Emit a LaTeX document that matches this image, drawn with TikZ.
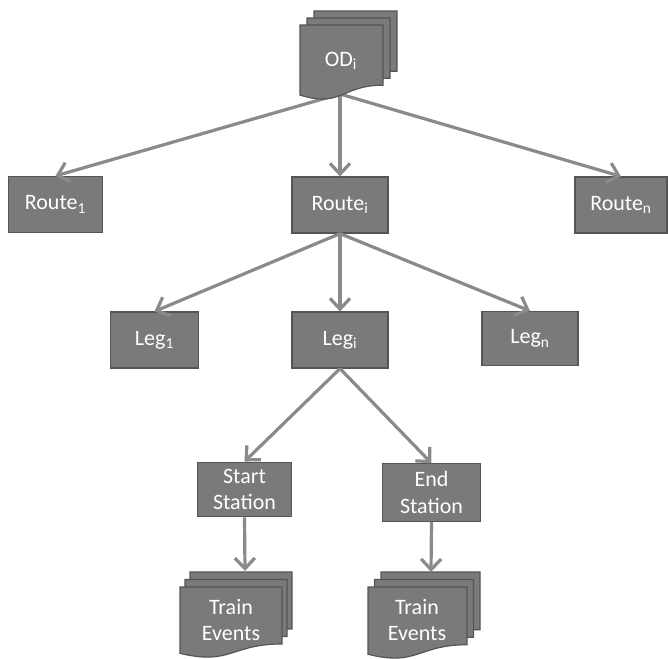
\documentclass[tikz,border=0pt]{standalone}
\usepackage{fontspec}
\setmainfont{Carlito}
\usetikzlibrary{arrows.meta}

\definecolor{boxfill}{HTML}{7A7A7A}
\definecolor{boxline}{HTML}{555555}
\definecolor{linkgray}{HTML}{8A8A8A}

% one sheet of a document stack: top-left x, top-left y, width, height
\newcommand{\docsheet}[4]{%
    \draw[sheet] (#1,#2) -- ({#1+#3},#2) -- ({#1+#3},{#2+0.802*#4})
        .. controls ({#1+0.5*#3},{#2+0.802*#4}) and ({#1+0.5*#3},{#2+1.107*#4})
        .. (#1,{#2+0.934*#4}) -- cycle;
}

\begin{document}
\begin{tikzpicture}[x=0.75pt, y=-0.75pt,
    every node/.style={font=\fontsize{16.5}{20}\selectfont, text=white},
    boxnode/.style={draw=boxline, fill=boxfill, line width=0.9pt,
        minimum width=72pt, minimum height=42pt, inner sep=2pt, align=center},
    sheet/.style={draw=boxline, fill=boxfill, line width=0.9pt},
    link/.style={draw=linkgray, line width=2.4pt,
        -{Straight Barb[length=8pt, width=15pt]}}]
    \useasboundingbox (0,0) rectangle (668,658);

    % boxes
    \node[boxnode, minimum width=71pt] (route1) at (55.5,204.5) {Route\textsubscript{1}};
    \node[boxnode] (routei) at (340,205) {Route\textsubscript{i}};
    \node[boxnode, minimum width=69pt] (routen) at (621,205) {Route\textsubscript{n}};
    \node[boxnode, minimum width=66pt] (leg1) at (154.5,340) {Leg\textsubscript{1}};
    \node[boxnode] (legi) at (340,340) {Leg\textsubscript{i}};
    \node[boxnode, minimum height=40.5pt] (legn) at (530,338.5) {Leg\textsubscript{n}};
    \node[boxnode, minimum width=71pt, minimum height=41pt] (start) at (244.5,489.5) {Start\\Station};
    \node[boxnode, minimum width=73pt, minimum height=43pt] (end) at (431.5,492.5) {End\\Station};

    % document stacks
    \coordinate (odfoot) at (340,94);
    \coordinate (eventsA) at (245,571);
    \coordinate (eventsB) at (431,572);
    \draw[link] (odfoot) -- (route1.north);
    \draw[link] (odfoot) -- (routei.north);
    \draw[link] (odfoot) -- (routen.north);
    \foreach \k in {2,1,0} {
        \docsheet{300+7*\k}{25-7*\k}{83}{75}
        \docsheet{180+5*\k}{587-7.5*\k}{102}{71}
        \docsheet{368+6.5*\k}{587-7.5*\k}{99}{72}
    }
    \node (od) at (341,61) {OD\textsubscript{i}};
    \node[align=center] (trainA) at (231,620) {Train\\Events};
    \node[align=center] (trainB) at (417,620) {Train\\Events};

    % links
    \draw[link] (routei.south) -- (leg1.north);
    \draw[link] (routei.south) -- (legi.north);
    \draw[link] (routei.south) -- (legn.north);
    \draw[link] (legi.south) -- (start.north);
    \draw[link] (legi.south) -- (end.north);
    \draw[link] (start.south) -- (eventsA);
    \draw[link] (end.south) -- (eventsB);
\end{tikzpicture}
\end{document}
